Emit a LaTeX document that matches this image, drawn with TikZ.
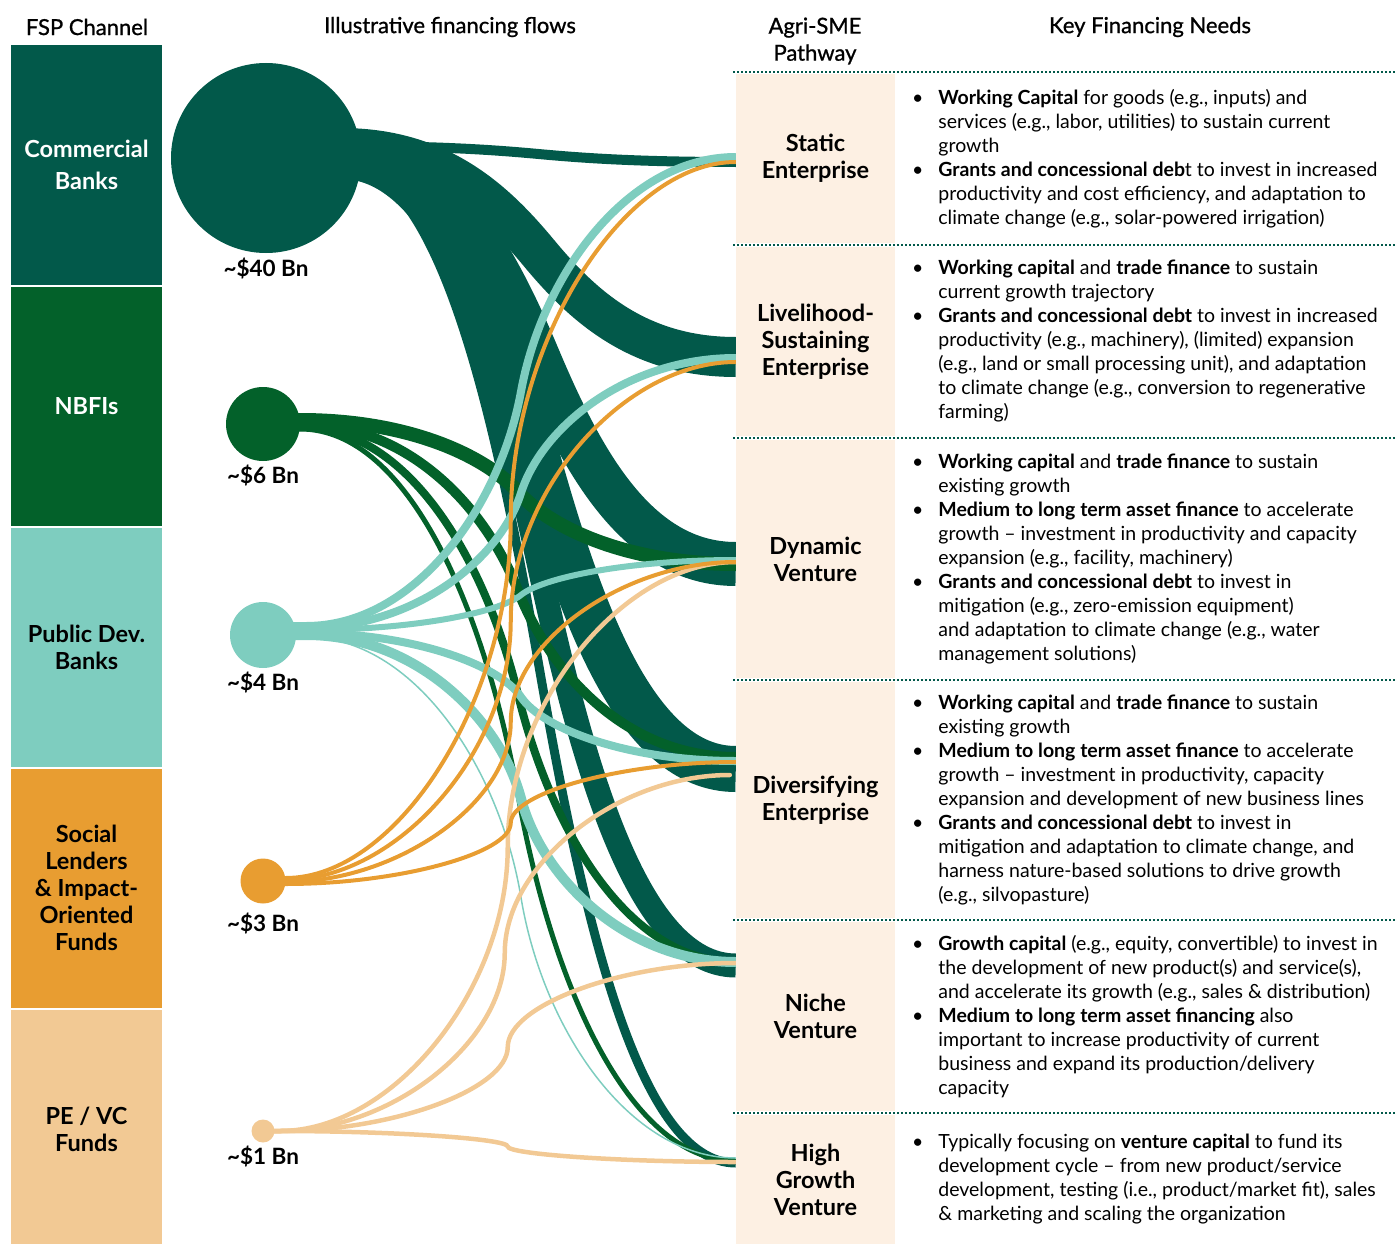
\documentclass[tikz,border=0pt]{standalone}
\usepackage{fontspec}
\setmainfont{Lato}
\newfontfamily\headfont{Lato}[FakeBold=1]
\usepackage{xcolor}
\usepackage{tikz}
\usetikzlibrary{positioning,calc}
\pgfdeclarelayer{bg}
\pgfsetlayers{bg,main}

\definecolor{cbgreen}{HTML}{02594A}
\definecolor{nbfigreen}{HTML}{03612A}
\definecolor{pdbteal}{HTML}{7ECDBF}
\definecolor{slorange}{HTML}{E89D31}
\definecolor{pepeach}{HTML}{F2C994}
\definecolor{beige}{HTML}{FDF0E3}

\newcommand{\bul}{\llap{\textbullet\hspace{15pt}}}
\newcommand{\finflow}[4][0]{%
  \draw[#2] let \p1=(#3), \p2=(#4), \n1={(\x1+\x2)/2}, \n2={(\y1+\y2)/2}, \n3={#1*(\x2-\x1)/2} in
    ({\x1-15pt},\y1) -- (\p1) .. controls ({(\x1+\n1)/2},\y1) and ({\n1-\n3},{(3*\y1+\y2)/4}) .. (\n1,\n2)
    .. controls ({\n1+\n3},{(\y1+3*\y2)/4}) and ({(\n1+\x2)/2},\y2) .. (\p2);}

\begin{document}
\begin{tikzpicture}[x=1pt, y=-1pt,
fsp/.style={rectangle, minimum width=151pt, minimum height=239pt, inner sep=0pt, align=center, font=\fontsize{23.5}{27}\selectfont\bfseries},
pway/.style={rectangle, fill=beige, minimum width=159pt, inner sep=0pt, align=center, font=\fontsize{23.5}{27}\selectfont\bfseries},
pool/.style={circle, inner sep=0pt},
amt/.style={inner sep=0pt, font=\fontsize{22.5}{24}\selectfont\bfseries},
need/.style={inner sep=0pt, align=left, font=\fontsize{19.5}{24}\selectfont},
colhead/.style={inner sep=0pt, align=center, font=\fontsize{22}{27}\headfont},
divider/.style={cbgreen, line width=2pt, dash pattern=on 2pt off 2pt}
]
\useasboundingbox (0,0) rectangle (1397,1244);

\node[colhead](h_fsp) at (87,27) {FSP Channel};
\node[colhead](h_flows) at (450,27) {Illustrative financing flows};
\node[colhead](h_path) at (815,41) {Agri-SME\\Pathway};
\node[colhead](h_needs) at (1150,27) {Key Financing Needs};

\node[fsp, fill=cbgreen, text=white](fsp_cb) at (86.5,165) {Commercial\\[5pt]Banks};
\node[fsp, fill=nbfigreen, text=white](fsp_nbfi)[below of = fsp_cb, node distance=241pt]{NBFIs};
\node[fsp, fill=pdbteal](fsp_pdb)[below of = fsp_nbfi, node distance=241pt]{Public Dev.\\Banks};
\node[fsp, fill=slorange](fsp_sl)[below of = fsp_pdb, node distance=241pt]{Social\\Lenders\\\& Impact-\\Oriented\\Funds};
\node[fsp, fill=pepeach](fsp_pe)[below of = fsp_sl, node distance=241pt]{PE / VC\\Funds};

\node[pool, fill=cbgreen, minimum size=190pt](cb) at (266,158) {};
\node[pool, fill=nbfigreen, minimum size=74pt](nbfi) at (263,424) {};
\node[pool, fill=pdbteal, minimum size=66pt](pdb) at (263,635) {};
\node[pool, fill=slorange, minimum size=45pt](sl) at (263,881) {};
\node[pool, fill=pepeach, minimum size=23pt](pe) at (263,1131) {};

\node[amt](cb_amt)[below=5pt of cb]{\textasciitilde\$40 Bn};
\node[amt](nbfi_amt)[below=4pt of nbfi]{\textasciitilde\$6 Bn};
\node[amt](pdb_amt)[below=4pt of pdb]{\textasciitilde\$4 Bn};
\node[amt](sl_amt)[below=9pt of sl]{\textasciitilde\$3 Bn};
\node[amt](pe_amt)[below=3pt of pe]{\textasciitilde\$1 Bn};

\node[pway, minimum height=169pt](static) at (815.5,158.5) {Static\\Enterprise};
\node[pway, minimum height=189pt](liveli)[below of = static, node distance=183pt]{Livelihood-\\Sustaining\\Enterprise};
\node[pway, minimum height=238pt](dynamic)[below of = liveli, node distance=217.5pt]{Dynamic\\Venture};
\node[pway, minimum height=236pt](divers)[below of = dynamic, node distance=241pt]{Diversifying\\Enterprise};
\node[pway, minimum height=189pt](niche)[below of = divers, node distance=216.5pt]{Niche\\Venture};
\node[pway, minimum height=129pt](hg)[below of = niche, node distance=163pt]{High\\Growth\\Venture};

\foreach \y in {72,245,438,680,920,1113}
  \draw[divider] (733,\y) -- (1397,\y);

\node[need](static_txt)[right=43pt of static]{%
\bul\textbf{Working Capital} for goods (e.g., inputs) and\\
services (e.g., labor, utilities) to sustain current\\
growth\\
\bul\textbf{Grants and concessional deb}t to invest in increased\\
productivity and cost efficiency, and adaptation to\\
climate change (e.g., solar-powered irrigation)};
\node[need](liveli_txt)[right=43pt of liveli]{%
\bul\textbf{Working capital} and \textbf{trade finance} to sustain\\
current growth trajectory\\
\bul\textbf{Grants and concessional debt} to invest in increased\\
productivity (e.g., machinery), (limited) expansion\\
(e.g., land or small processing unit), and adaptation\\
to climate change (e.g., conversion to regenerative\\
farming)};
\node[need](dynamic_txt)[right=43pt of dynamic]{%
\bul\textbf{Working capital} and \textbf{trade finance} to sustain\\
existing growth\\
\bul\textbf{Medium to long term asset finance} to accelerate\\
growth -- investment in productivity and capacity\\
expansion (e.g., facility, machinery)\\
\bul\textbf{Grants and concessional debt} to invest in\\
mitigation (e.g., zero-emission equipment)\\
and adaptation to climate change (e.g., water\\
management solutions)};
\node[need](divers_txt)[right=43pt of divers]{%
\bul\textbf{Working capital} and \textbf{trade finance} to sustain\\
existing growth\\
\bul\textbf{Medium to long term asset finance} to accelerate\\
growth -- investment in productivity, capacity\\
expansion and development of new business lines\\
\bul\textbf{Grants and concessional debt} to invest in\\
mitigation and adaptation to climate change, and\\
harness nature-based solutions to drive growth\\
(e.g., silvopasture)};
\node[need](niche_txt)[right=43pt of niche]{%
\bul\textbf{Growth capital} (e.g., equity, convertible) to invest in\\
the development of new product(s) and service(s),\\
and accelerate its growth (e.g., sales \& distribution)\\
\bul\textbf{Medium to long term asset financing} also\\
important to increase productivity of current\\
business and expand its production/delivery\\
capacity};
\node[need](hg_txt)[right=43pt of hg]{%
\bul Typically focusing on \textbf{venture capital} to fund its\\
development cycle -- from new product/service\\
development, testing (i.e., product/market fit), sales\\
\& marketing and scaling the organization};

\begin{pgfonlayer}{bg}
\finflow[0.22]{cbgreen, line width=10pt}{$(cb.east)+(-20,-12)$}{$(static.west)+(0,3.5)$}
\finflow[0.22]{cbgreen, line width=40pt}{$(cb.east)+(-20,-10)$}{$(liveli.west)+(0,15.5)$}
\finflow[0.22]{cbgreen, line width=44pt}{$(cb.east)+(-20,-6)$}{$(dynamic.west)+(0,5)$}
\finflow[0.22]{cbgreen, line width=46pt}{$(cb.east)+(-20,-2)$}{$(divers.west)+(0,-31)$}
\finflow[0.22]{cbgreen, line width=24pt}{$(cb.east)+(-20,2)$}{$(niche.west)+(0,-51)$}
\finflow[0.22]{cbgreen, line width=9pt}{$(cb.east)+(-20,6)$}{$(hg.west)+(0,-16.5)$}

\finflow[0.15]{nbfigreen, line width=14pt}{$(nbfi.east)+(0,-4)$}{$(dynamic.west)+(0,5)$}
\finflow[0.15]{nbfigreen, line width=10pt}{$(nbfi.east)+(0,0)$}{$(divers.west)+(0,-43)$}
\finflow[0.15]{nbfigreen, line width=8pt}{$(nbfi.east)+(0,3)$}{$(niche.west)+(0,-54.5)$}
\finflow[0.15]{nbfigreen, line width=5pt}{$(nbfi.east)+(0,5)$}{$(hg.west)+(0,-18.5)$}

\finflow[0.1]{pdbteal, line width=8pt}{$(pdb.east)+(10,-9)$}{$(static.west)+(0,-1.5)$}
\finflow[0.1]{pdbteal, line width=8pt}{$(pdb.east)+(10,-7)$}{$(liveli.west)+(0,16.5)$}
\finflow[0.1]{pdbteal, line width=6pt}{$(pdb.east)+(10,-5)$}{$(dynamic.west)+(0,1)$}
\finflow[0.1]{pdbteal, line width=8pt}{$(pdb.east)+(10,-2)$}{$(divers.west)+(0,-39)$}
\finflow[0.1]{pdbteal, line width=10pt}{$(pdb.east)+(10,0)$}{$(niche.west)+(0,-54.5)$}
\finflow[0.1]{pdbteal, line width=1.5pt}{$(pdb.east)+(10,2)$}{$(hg.west)+(0,-21.5)$}

\finflow{pepeach, line width=4.5pt}{$(pe.east)+(5,0)$}{$(dynamic.west)+(0,3)$}
\finflow{pepeach, line width=4.5pt, line cap=round}{$(pe.east)+(5,0)$}{$(divers.west)+(-6,-25)$}
\finflow{pepeach, line width=4.5pt}{$(pe.east)+(5,0)$}{$(niche.west)+(0,-53.5)$}
\finflow{pepeach, line width=4.5pt}{$(pe.east)+(5,0)$}{$(hg.west)+(0,-17.5)$}

\finflow{slorange, line width=4pt}{$(sl.east)+(0,-3)$}{$(static.west)+(0,3.5)$}
\finflow{slorange, line width=4pt}{$(sl.east)+(0,-1)$}{$(liveli.west)+(0,20.5)$}
\finflow{slorange, line width=4pt}{$(sl.east)+(0,1)$}{$(dynamic.west)+(0,3)$}
\finflow{slorange, line width=4pt}{$(sl.east)+(0,3)$}{$(divers.west)+(0,-38)$}
\end{pgfonlayer}

\end{tikzpicture}
\end{document}
